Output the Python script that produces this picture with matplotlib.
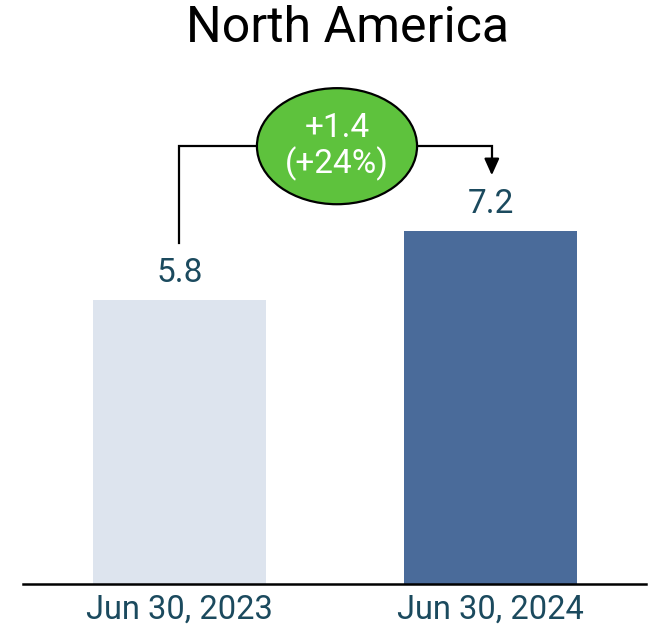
import matplotlib
matplotlib.use("Agg")
import matplotlib.pyplot as plt
from matplotlib.patches import Ellipse

plt.rcParams['font.family'] = ['Roboto', 'DejaVu Sans']

categories = ["Jun 30, 2023", "Jun 30, 2024"]
values = [5.8, 7.2]
bar_colors = ["#dde4ee", "#4a6b9a"]
title = "North America"

change = values[1] - values[0]
pct = change / values[0] * 100
change_text = f"+{change:.1f}\n(+{pct:.0f}%)"

text_color = "#1b4a5e"

fig = plt.figure(figsize=(6.49, 6.34), dpi=100)
ax = fig.add_axes([23 / 649, 50 / 634, 623 / 649, 524 / 634])

x = list(range(len(categories)))
ax.bar(x, values, width=0.556, color=bar_colors)
ax.set_xlim(-0.502, 1.498)
ax.set_ylim(0, 10.7)

for xi, v in zip(x, values):
    ax.annotate(f"{v:.1f}", (xi, v), xytext=(0, 8), textcoords="offset points",
                ha="center", va="bottom", fontsize=24, color=text_color)

ax.set_xticks(x)
ax.set_xticklabels(categories, fontsize=23.5, color=text_color)
ax.tick_params(axis="x", length=0, pad=7)
ax.set_yticks([])
for s in ["left", "right", "top"]:
    ax.spines[s].set_visible(False)
ax.spines["bottom"].set_linewidth(1.8)
ax.spines["bottom"].set_color("black")

# connector from first bar to second bar with change bubble
y_line = 8.94
x_mid = 0.506
ell_w, ell_h = 0.514, 2.37
ax.plot([0, 0, x_mid - ell_w / 2], [6.96, y_line, y_line], color="black", lw=1.6,
        solid_joinstyle="miter")
ax.plot([x_mid + ell_w / 2, 1.003, 1.003], [y_line, y_line, 8.6], color="black", lw=1.6,
        solid_joinstyle="miter")
ax.annotate("", xy=(1.003, 8.29), xytext=(1.003, 8.75),
            arrowprops=dict(arrowstyle="-|>,head_width=0.45,head_length=1.0",
                            color="black", lw=1.6))
ax.add_patch(Ellipse((x_mid, y_line), ell_w, ell_h, facecolor="#5ec23d",
                     edgecolor="black", lw=1.6, zorder=3))
ax.text(x_mid, y_line, change_text, ha="center", va="center", fontsize=24,
        color="white", zorder=4, linespacing=1.1)

fig.text(347 / 649, 1 - 28 / 634, title, ha="center", va="center", fontsize=36,
         color="black")

fig.savefig("out.png", dpi=100)
